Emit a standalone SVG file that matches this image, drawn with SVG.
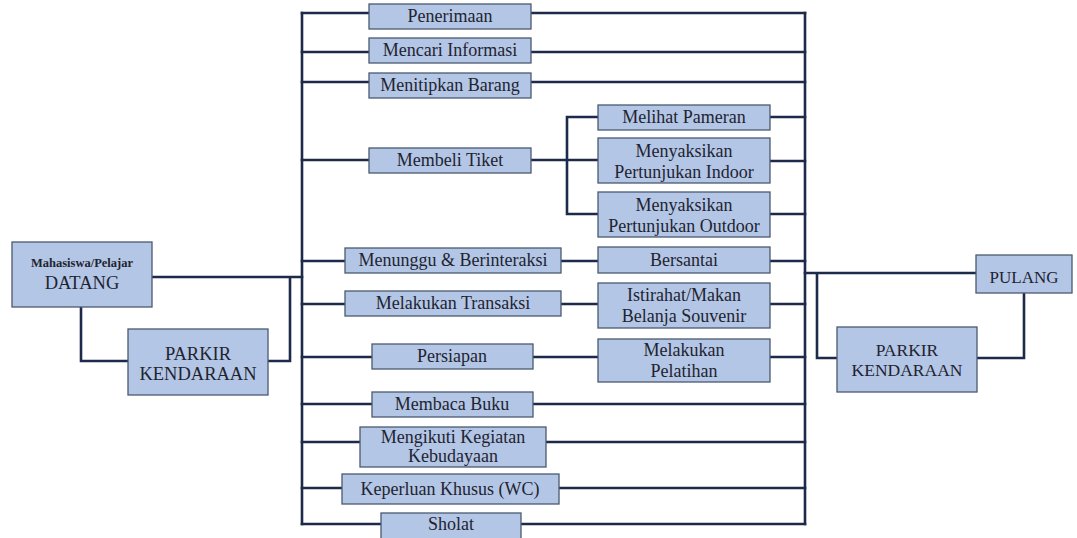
<svg xmlns="http://www.w3.org/2000/svg" width="1077" height="538" viewBox="0 0 1077 538">
<style>
.bg{fill:#ffffff}
.box{fill:#b4c6e6;stroke:#4a5a72;stroke-width:1.3}
.ln{fill:none;stroke:#1d2a4a;stroke-width:2.6;stroke-linecap:square}
.t{font-family:'Liberation Serif',serif;font-size:18px;fill:#1e2430;text-anchor:middle}
.big{font-size:18.5px}
.mid{font-size:17.5px}
.sm{font-size:12.5px;font-weight:bold}
</style>
<rect class="bg" x="0" y="0" width="1077" height="538"/>
<g id="connectors">
<path class="ln" d="M302,13 V524 M805,13 V524"/>
<path class="ln" d="M302,13 H369 M531,13 H805"/>
<path class="ln" d="M302,52 H369 M531,52 H805"/>
<path class="ln" d="M302,82 H369 M531,82 H805"/>
<path class="ln" d="M302,160 H369 M531,160 H598 M567,117 V214 M567,117 H598 M567,214 H598"/>
<path class="ln" d="M770,117 H805 M770,161 H805 M770,214 H805"/>
<path class="ln" d="M302,261 H345 M561,261 H598 M770,261 H805"/>
<path class="ln" d="M302,304 H345 M561,304 H598 M770,304 H805"/>
<path class="ln" d="M302,357 H372 M533,357 H598 M770,357 H805"/>
<path class="ln" d="M302,404 H372 M533,404 H805"/>
<path class="ln" d="M302,442 H360 M546,442 H805"/>
<path class="ln" d="M302,488 H342 M559,488 H805"/>
<path class="ln" d="M302,524 H381 M521,524 H805"/>
<path class="ln" d="M152,277 H302 M290,277 V361 H268 M81,307 V361 H128"/>
<path class="ln" d="M805,273 H976 M817,273 V358 H837 M977,358 H1024 V293"/>
</g>
<g id="n-penerimaan"><rect class="box" x="369" y="4" width="162" height="25"/><text class="t" x="450" y="22">Penerimaan</text></g>
<g id="n-mencari"><rect class="box" x="369" y="38" width="162" height="25"/><text class="t" x="450" y="56">Mencari Informasi</text></g>
<g id="n-menitipkan"><rect class="box" x="369" y="73" width="162" height="25"/><text class="t" x="450" y="91">Menitipkan Barang</text></g>
<g id="n-membeli"><rect class="box" x="369" y="148" width="162" height="25"/><text class="t" x="450" y="166">Membeli Tiket</text></g>
<g id="n-pameran"><rect class="box" x="598" y="105" width="172" height="25"/><text class="t" x="684" y="123">Melihat Pameran</text></g>
<g id="n-indoor"><rect class="box" x="598" y="138" width="172" height="45"/><text class="t" x="684" y="157">Menyaksikan</text><text class="t" x="684" y="178">Pertunjukan Indoor</text></g>
<g id="n-outdoor"><rect class="box" x="598" y="192" width="172" height="45"/><text class="t" x="684" y="211">Menyaksikan</text><text class="t" x="684" y="232">Pertunjukan Outdoor</text></g>
<g id="n-menunggu"><rect class="box" x="345" y="248" width="216" height="25"/><text class="t" x="453" y="266">Menunggu &amp; Berinteraksi</text></g>
<g id="n-bersantai"><rect class="box" x="598" y="247" width="172" height="26"/><text class="t" x="684" y="266">Bersantai</text></g>
<g id="n-transaksi"><rect class="box" x="345" y="291" width="216" height="25"/><text class="t" x="453" y="309">Melakukan Transaksi</text></g>
<g id="n-istirahat"><rect class="box" x="598" y="283" width="172" height="45"/><text class="t" x="684" y="301">Istirahat/Makan</text><text class="t" x="684" y="322">Belanja Souvenir</text></g>
<g id="n-persiapan"><rect class="box" x="372" y="344" width="161" height="25"/><text class="t" x="452" y="362">Persiapan</text></g>
<g id="n-pelatihan"><rect class="box" x="598" y="339" width="172" height="43"/><text class="t" x="684" y="356">Melakukan</text><text class="t" x="684" y="377">Pelatihan</text></g>
<g id="n-membaca"><rect class="box" x="372" y="392" width="161" height="25"/><text class="t" x="452" y="410">Membaca Buku</text></g>
<g id="n-kebudayaan"><rect class="box" x="360" y="427" width="186" height="40"/><text class="t" x="453" y="443">Mengikuti Kegiatan</text><text class="t" x="453" y="462">Kebudayaan</text></g>
<g id="n-wc"><rect class="box" x="342" y="474" width="217" height="30"/><text class="t" x="450" y="495">Keperluan Khusus (WC)</text></g>
<g id="n-sholat"><rect class="box" x="381" y="513" width="140" height="26"/><text class="t" x="451" y="530">Sholat</text></g>
<g id="n-datang"><rect class="box" x="12" y="242" width="140" height="65"/><text class="t sm" x="82" y="267">Mahasiswa/Pelajar</text><text class="t big" x="82" y="289">DATANG</text></g>
<g id="n-parkir1"><rect class="box" x="128" y="329" width="140" height="66"/><text class="t big" x="198" y="360">PARKIR</text><text class="t big" x="198" y="380">KENDARAAN</text></g>
<g id="n-pulang"><rect class="box" x="976" y="255" width="96" height="38"/><text class="t" x="1024" y="283" style="font-size:17px">PULANG</text></g>
<g id="n-parkir2"><rect class="box" x="837" y="327" width="140" height="65"/><text class="t mid" x="907" y="356">PARKIR</text><text class="t mid" x="907" y="376">KENDARAAN</text></g>
</svg>
